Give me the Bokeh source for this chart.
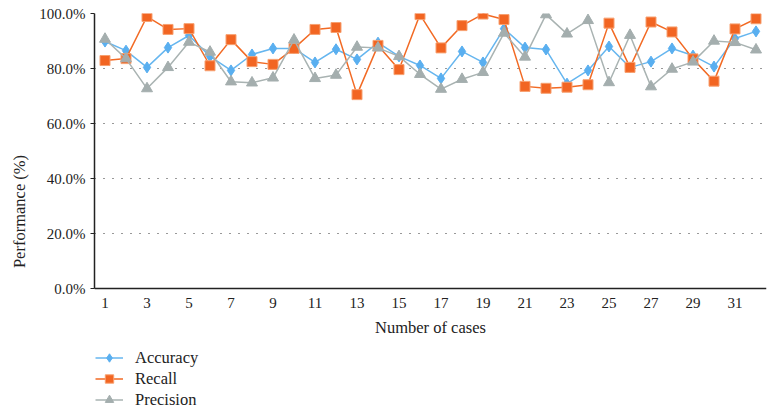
from bokeh.plotting import figure
from bokeh.models import Legend, LegendItem, FixedTicker, PrintfTickFormatter, Range1d
from bokeh.embed import file_html
from bokeh.resources import INLINE

cases = list(range(1, 33))
accuracy = [89.8, 86.5, 80.4, 87.6, 92.0, 84.4, 79.3, 85.1, 87.3, 87.3, 82.2, 87.0,
            83.3, 89.4, 84.4, 81.1, 76.4, 86.2, 82.2, 94.5, 87.6, 86.9, 74.5, 79.3,
            88.0, 80.4, 82.5, 87.3, 84.7, 80.7, 90.9, 93.5]
recall = [82.9, 83.6, 98.9, 94.2, 94.5, 81.0, 90.5, 82.5, 81.5, 87.3, 94.2, 94.9,
          70.5, 88.4, 79.6, 99.6, 87.5, 95.6, 99.8, 97.8, 73.5, 72.8, 73.2, 74.1,
          96.5, 80.4, 96.9, 93.3, 83.5, 75.4, 94.4, 98.1]
precision = [90.7, 83.6, 72.7, 80.4, 89.6, 86.0, 75.2, 74.8, 76.6, 90.4, 76.4, 77.6,
             87.8, 87.5, 84.4, 77.9, 72.5, 76.1, 78.6, 92.9, 84.2, 99.6, 92.6, 97.5,
             74.9, 92.1, 73.4, 79.8, 82.4, 90.0, 89.5, 86.8]
x_ticks = list(range(1, 33, 2))
y_ticks = [0, 20, 40, 60, 80, 100]

FONT = "Liberation Serif"

# frame spans from the 100% line down to the bottom of the page; the x axis sits at 0
FRAME_H = 396
y_low = 100 - FRAME_H / 2.75

p = figure(frame_width=672, frame_height=FRAME_H, output_backend="svg", toolbar_location=None,
           x_range=Range1d(0.5, 32.5), y_range=Range1d(y_low, 100),
           min_border_left=94, min_border_right=2, min_border_top=13, min_border_bottom=0)
p.outline_line_color = None
p.background_fill_color = "white"

c_acc = "#66b6ef"
c_rec = "#f26a24"
c_pre = "#a9b3b2"

r1 = p.line(cases, accuracy, line_color=c_acc, line_width=1.5)
m1 = p.scatter(cases, accuracy, marker="diamond", size=11, fill_color="#59aff0", line_color="#59aff0")
r2 = p.line(cases, recall, line_color=c_rec, line_width=1.5)
m2 = p.scatter(cases, recall, marker="square", size=10, fill_color="#f26522", line_color="#f7a070")
r3 = p.line(cases, precision, line_color=c_pre, line_width=1.5)
m3 = p.scatter(cases, precision, marker="triangle", size=11, fill_color="#a4aeae", line_color="#a4aeae")

# axes
p.xaxis.fixed_location = 0
p.xaxis.ticker = FixedTicker(ticks=x_ticks)
p.xaxis.major_tick_line_color = None
p.xaxis.minor_tick_line_color = None
p.xaxis.axis_line_color = "#222222"
p.xaxis.axis_line_width = 1.5
p.xaxis.axis_label = "Number of cases"
p.xaxis.major_label_standoff = 3
p.xaxis.axis_label_standoff = 7

p.yaxis.bounds = (0, 100)
p.yaxis.ticker = FixedTicker(ticks=y_ticks)
p.yaxis.formatter = PrintfTickFormatter(format="%.1f%%")
p.yaxis.minor_tick_line_color = None
p.yaxis.major_tick_in = 0
p.yaxis.major_tick_out = 4
p.yaxis.major_tick_line_color = "#222222"
p.yaxis.axis_line_color = "#222222"
p.yaxis.axis_line_width = 1.5
p.yaxis.axis_label = "Performance (%)"
p.yaxis.major_label_standoff = 5
p.yaxis.axis_label_standoff = 7

for ax in (p.xaxis[0], p.yaxis[0]):
    ax.major_label_text_font = FONT
    ax.major_label_text_font_size = "15px"
    ax.major_label_text_color = "#222222"
    ax.axis_label_text_font = FONT
    ax.axis_label_text_font_size = "16.5px"
    ax.axis_label_text_font_style = "normal"
    ax.axis_label_text_color = "#222222"

p.xgrid.grid_line_color = None
p.ygrid.grid_line_color = "#333333"
p.ygrid.grid_line_dash = "1 8"
p.ygrid.grid_line_width = 1.2

legend = Legend(items=[
    LegendItem(label="Accuracy", renderers=[r1, m1]),
    LegendItem(label="Recall", renderers=[r2, m2]),
    LegendItem(label="Precision", renderers=[r3, m3]),
], orientation="vertical", location=(1, -1))
legend.border_line_color = None
legend.background_fill_alpha = 0
legend.label_text_font = FONT
legend.label_text_font_size = "16.5px"
legend.label_text_color = "#222222"
legend.glyph_width = 28
legend.glyph_height = 21
legend.label_height = 21
legend.spacing = 0
legend.padding = 0
legend.margin = 0
legend.label_standoff = 12
p.add_layout(legend, "center")

open("out.html", "w").write(file_html(p, INLINE))
